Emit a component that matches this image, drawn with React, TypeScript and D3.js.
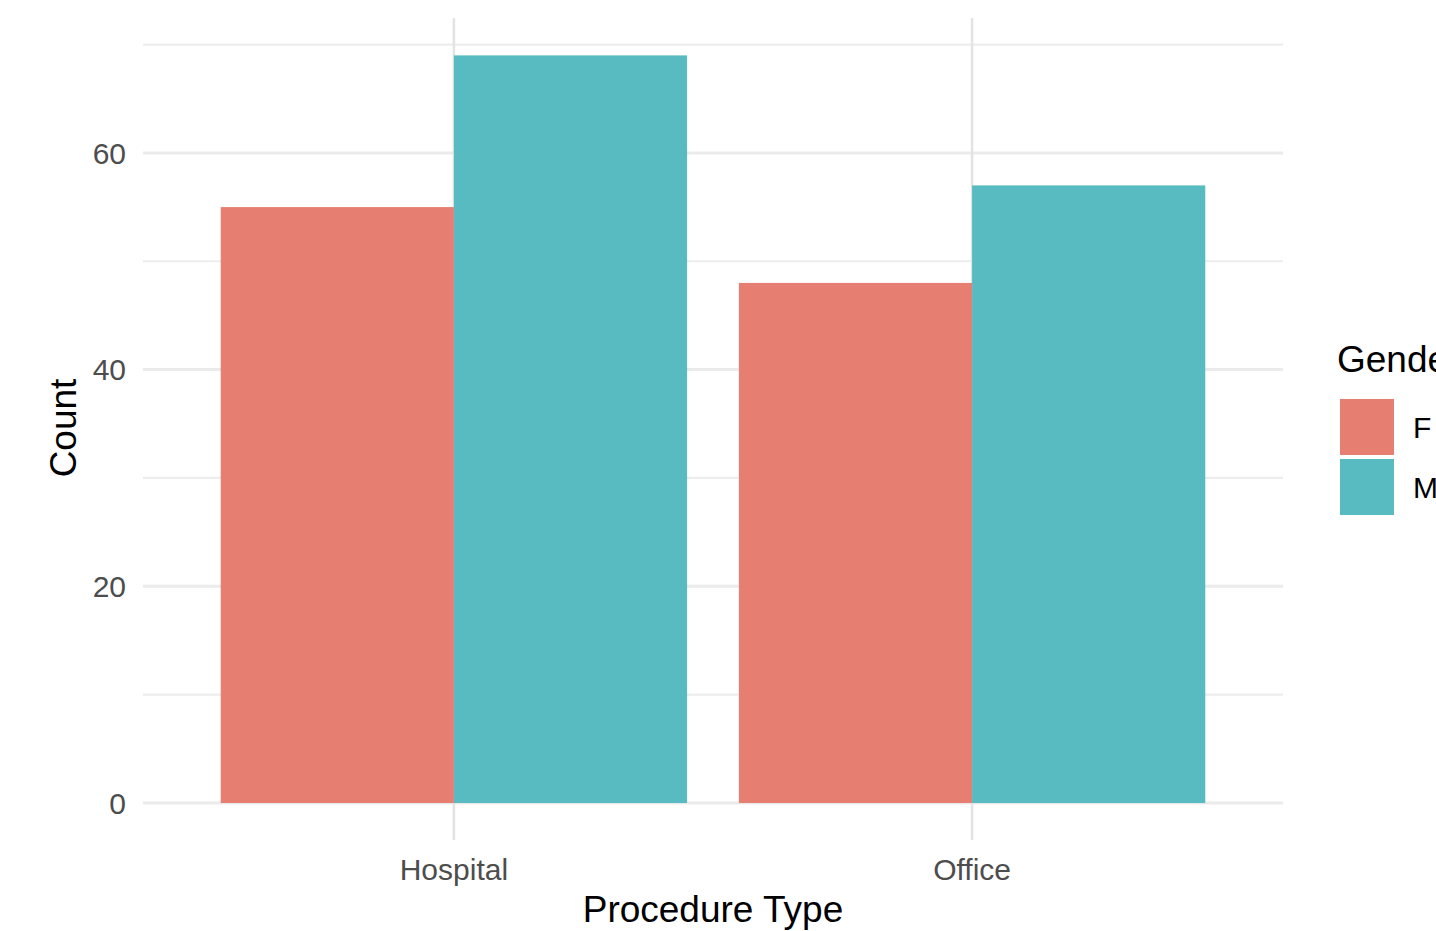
import React from "react";
import * as d3 from "d3";

const categories = ["Hospital", "Office"];
const genders = ["F", "M"];
const countsF = [55, 48];
const countsM = [69, 57];
const yTicks = [0, 20, 40, 60];
const yMinor = [10, 30, 50, 70];
const colors = ["#E67E72", "#57BBC1"];

const W = 1436;
const H = 931;
const FONT = "'Liberation Sans', Arial, Helvetica, sans-serif";

export default function App() {
  const panelLeft = 143;
  const panelRight = 1283;
  const maxVal = d3.max([...countsF, ...countsM]) as number;
  const pad = maxVal * 0.05;
  const y = d3.scaleLinear().domain([-pad, maxVal + pad]).range([840.4, 18]);
  const x = d3
    .scaleBand<string>()
    .domain(categories)
    .range([panelLeft, panelRight])
    .paddingInner(0.1 / 1.0)
    .paddingOuter(0);
  // ggplot discrete: centers at 0.6 and 1.6 units of 2.2 total
  const unit = (panelRight - panelLeft) / 2.2;
  const cx = (i: number) => panelLeft + (0.6 + i) * unit;
  const barW = 0.9 * unit;
  const series = [countsF, countsM];

  return (
    <svg
      width={W}
      height={H}
      style={{ position: "absolute", left: 0, top: 0, background: "#fff" }}
      fontFamily={FONT}
    >
      {/* minor gridlines */}
      {yMinor.map((t) => (
        <line key={"mi" + t} x1={panelLeft} x2={panelRight} y1={y(t)} y2={y(t)} stroke="#EDEDED" strokeWidth={2.2} />
      ))}
      {/* major gridlines */}
      {yTicks.map((t) => (
        <line key={"ma" + t} x1={panelLeft} x2={panelRight} y1={y(t)} y2={y(t)} stroke="#EBEBEB" strokeWidth={3} />
      ))}
      {categories.map((c, i) => (
        <line key={"v" + c} x1={cx(i)} x2={cx(i)} y1={18} y2={840} stroke="#E3E3E3" strokeWidth={2.5} />
      ))}
      {/* bars */}
      {categories.map((c, i) =>
        series.map((s, g) => {
          const x0 = cx(i) - barW / 2 + (g * barW) / 2;
          return (
            <rect
              key={c + g}
              x={x0}
              y={y(s[i])}
              width={barW / 2}
              height={y(0) - y(s[i])}
              fill={colors[g]}
            />
          );
        })
      )}
      {/* y tick labels */}
      {yTicks.map((t) => (
        <text key={"yl" + t} x={126} y={y(t)} dy="0.36em" textAnchor="end" fontSize={30} fill="#4D4D4D">
          {t}
        </text>
      ))}
      {/* x tick labels */}
      {categories.map((c, i) => (
        <text key={"xl" + c} x={cx(i)} y={880} textAnchor="middle" fontSize={30} fill="#4D4D4D">
          {c}
        </text>
      ))}
      {/* axis titles */}
      <text x={(panelLeft + panelRight) / 2} y={922} textAnchor="middle" fontSize={37} fill="#000">
        Procedure Type
      </text>
      <text transform={`translate(76,428) rotate(-90)`} textAnchor="middle" fontSize={37} fill="#000">
        Count
      </text>
      {/* legend */}
      <text x={1337} y={372} fontSize={37} fill="#000">
        Gender
      </text>
      {genders.map((g, i) => (
        <g key={"lg" + g}>
          <rect x={1340} y={399 + i * 60} width={54} height={56} fill={colors[i]} />
          <text x={1413} y={427 + i * 60} dy="0.36em" fontSize={30} fill="#000">
            {g}
          </text>
        </g>
      ))}
    </svg>
  );
}
